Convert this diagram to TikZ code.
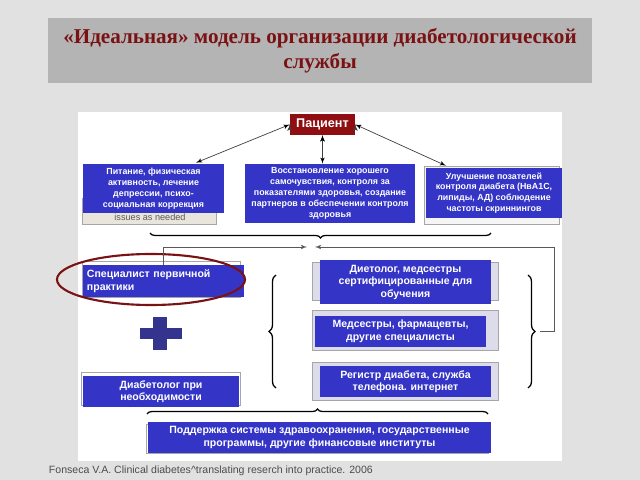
\documentclass[tikz,border=0pt]{standalone}
\usepackage{fontspec}
\setmainfont{Liberation Serif}
\setsansfont{Liberation Sans}
\usepackage{tikz}
\usetikzlibrary{arrows.meta}
\usetikzlibrary{arrows}
\usepackage{xcolor}
\usetikzlibrary{positioning,calc,decorations.pathreplacing}

\definecolor{bgray}{HTML}{E1E1E1}
\definecolor{tgray}{HTML}{B4B4B4}
\definecolor{tred}{HTML}{7A1214}
\definecolor{pred}{HTML}{8E0E12}
\definecolor{bblue}{HTML}{3434C6}
\definecolor{navy}{HTML}{34348F}
\definecolor{lav}{HTML}{DCDCEA}
\definecolor{beige}{HTML}{E9E5DD}

\begin{document}
\begin{tikzpicture}[x=0.025cm,y=-0.025cm]
  \tikzset{box/.style = {shape=rectangle,fill=bblue,text=white,align=center,inner sep=1pt,font=\sffamily\bfseries\fontsize{6.3}{7.7}\selectfont}}
  \tikzset{bigbox/.style = {box,font=\sffamily\bfseries\fontsize{7.5}{8.9}\selectfont}}
  \tikzset{backbox/.style = {draw=gray!70,fill=lav,line width=0.6pt}}
  \tikzset{edge/.style = {<->,> = latex',draw=black!75,line width=0.5pt}}
  \tikzset{link/.style = {->,> = latex',draw=black!65,line width=0.5pt}}
  \tikzset{curly/.style = {decorate,decoration={brace,amplitude=#1},line width=0.9pt}}

    \useasboundingbox (0,0) rectangle (640,480);
    \fill[bgray] (0,0) rectangle (640,480);

	\node[fill=tgray, minimum width=13.6cm, minimum height=1.625cm, text=tred, align=center,
	  font=\bfseries\fontsize{15}{17.5}\selectfont] (title) at (320,50.5)
	  {«Идеальная» модель организации диабетологической\\службы};

    \fill[white] (78,112) rectangle (562,461);

    % boxes behind
    \draw[backbox,fill=beige] (82,198) rectangle (216,224);
    \node[font=\sffamily\fontsize{6.5}{7}\selectfont, text=black!65] (iss) at (150,217) {issues as needed};
    \draw[backbox,fill=white!92!gray] (424,166) rectangle (559,224);
    \draw[backbox,fill=white] (82,261) rectangle (240,297);
    \draw[backbox,fill=white] (81,372) rectangle (240,405);
    \draw[backbox] (312,262) rectangle (498,300);
    \draw[backbox] (312,310) rectangle (498,350);
    \draw[backbox] (312,362) rectangle (498,400);
    \draw[backbox,fill=white] (146,424) rectangle (488,453);

	\node[box, fill=pred, minimum width=1.625cm, minimum height=0.525cm,
	  font=\sffamily\bfseries\fontsize{9}{10}\selectfont] (pat) at (322.5,124.5) {Пациент};

	\node[box, minimum width=3.525cm, minimum height=1.225cm] (left) at (153.5,188.5)
	  {Питание, физическая\\активность, лечение\\депрессии, психо-\\социальная коррекция};
	\node[box, minimum width=4.25cm, minimum height=1.475cm] (mid) at (330,193.5)
	  {Восстановление хорошего\\самочувствия, контроля за\\показателями здоровья, создание\\партнеров в обеспечении контроля\\здоровья};
	\node[box, minimum width=3.4cm, minimum height=1.25cm] (right) at (494,193)
	  {Улучшение позателей\\контроля диабета (НвА1С,\\липиды, АД) соблюдение\\частоты скриннингов};

	\node[bigbox, text width=3.825cm, inner xsep=0.1cm, align=left, minimum height=0.8cm] (spec) at (163.5,281)
	  {Специалист первичной\\практики};
	\node[bigbox, minimum width=3.9cm, minimum height=0.775cm] (diab) at (161,391.5)
	  {Диабетолог при\\необходимости};

	\node[bigbox, minimum width=4.275cm, minimum height=1.1cm] (diet) at (405.5,282)
	  {Диетолог, медсестры\\сертифицированные для\\обучения};
	\node[bigbox, minimum width=4.275cm, minimum height=0.775cm] (nurse) at (400.5,331.5)
	  {Медсестры, фармацевты,\\другие специалисты};
	\node[bigbox, minimum width=4.275cm, minimum height=0.775cm] (reg) at (405.5,381.5)
	  {Регистр диабета, служба\\телефона. интернет};

	\node[bigbox, minimum width=8.575cm, minimum height=0.775cm] (supp) at (319.5,437.5)
	  {Поддержка системы здравоохранения, государственные\\программы, другие финансовые институты};

    % plus and ring
    \fill[navy] (140,328) rectangle (182,339);
    \fill[navy] (153,317) rectangle (167,350);
    \draw[tred, line width=1.5pt] (151,279.5) ellipse [x radius=94, y radius=25.5];

    % braces
    \draw[curly=3.5pt] (491,233) -- (150,233);
    \draw[curly=3.5pt] (147,414) -- (488,414);
    \draw[curly=5pt] (276,388) -- (276,275);
    \draw[curly=5pt] (528,275) -- (528,388);

    \coordinate (lefttip) at ($(left.north)+(42.5,-1)$);
    \coordinate (midtip) at (pat.south |- mid.north);
    \coordinate (righttip) at ($(right.north)+(-48,-2)$);

    \foreach \from/\to in {pat.west/lefttip, pat.south/midtip, pat.east/righttip}
    \path[edge] (\from) edge (\to);

    \coordinate (meetL) at (307,247);
    \coordinate (meetR) at (315,247);
    \coordinate (rbtip) at (540,331);
    \coordinate (rcorner) at (554,331);
    \draw[link] (spec.north) |- (meetL);
    \draw[link] (rbtip) -- (rcorner) |- (meetR);

	\node[anchor=west, font=\sffamily\fontsize{7.5}{9}\selectfont, text=black!70] (src) at (44,471)
	  {Fonseca V.A. Clinical diabetes\textasciicircum translating reserch into practice. 2006};

\end{tikzpicture}
\end{document}
